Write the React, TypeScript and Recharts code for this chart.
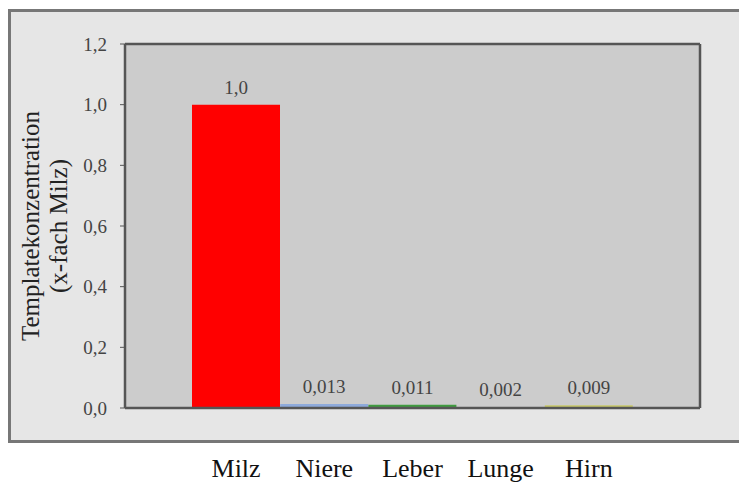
import React from 'react';
import { BarChart, Bar, XAxis, YAxis, CartesianGrid, Cell, LabelList } from 'recharts';

const categories = ['Milz', 'Niere', 'Leber', 'Lunge', 'Hirn'];
const values = [1.0, 0.013, 0.011, 0.002, 0.009];
const valueLabels = ['1,0', '0,013', '0,011', '0,002', '0,009'];
const barColors = ['#ff0000', '#8eaadb', '#3f9b3f', '#666666', '#c9c96a'];
const yTicks = [0, 0.2, 0.4, 0.6, 0.8, 1.0, 1.2];
const yLabelLines = ['Templatekonzentration', '(x-fach Milz)'];

const data = categories.map((c, i) => ({ name: c, value: values[i], label: valueLabels[i] }));

const FONT = '"Liberation Serif", "Times New Roman", serif';
const AXIS = '#555555';

const YLabel = (props: any) => {
  const vb = props.viewBox || { x: 0, y: 0, width: 0, height: 0 };
  const cy = vb.y + vb.height / 2;
  const x1 = vb.x + 30;
  const x2 = vb.x + 58;
  return (
    <g>
      <text x={x1} y={cy} transform={`rotate(-90, ${x1}, ${cy})`} textAnchor="middle" dominantBaseline="central"
        fontFamily={FONT} fontSize={25} fill="#222">{yLabelLines[0]}</text>
      <text x={x2} y={cy} transform={`rotate(-90, ${x2}, ${cy})`} textAnchor="middle" dominantBaseline="central"
        fontFamily={FONT} fontSize={25} fill="#222">{yLabelLines[1]}</text>
    </g>
  );
};

export default function App() {
  return (
    <div style={{ position: 'fixed', left: 0, top: 0, width: 739, height: 484, background: '#ffffff', overflow: 'hidden' }}>
      <div style={{ position: 'absolute', left: 8, top: 9, width: 760, height: 428, background: '#e6e6e6', border: '3px solid #777777' }} />
      <div style={{ position: 'absolute', left: 0, top: 0 }}>
        <BarChart width={739} height={484} data={data} margin={{ top: 43, right: 38, bottom: 0, left: 0 }} barCategoryGap={0}>
          <CartesianGrid fill="#cccccc" stroke="none" horizontal={false} vertical={false} />
          <XAxis dataKey="name" height={76} padding={{ left: 67, right: 67 }} tickLine={false}
            axisLine={{ stroke: AXIS, strokeWidth: 2.5 }} tickMargin={45}
            tick={{ fill: '#111', fontSize: 26, fontFamily: FONT }} interval={0} />
          <XAxis xAxisId="top" dataKey="name" orientation="top" height={1} tick={false} tickLine={false}
            axisLine={{ stroke: AXIS, strokeWidth: 2.5 }} />
          <YAxis width={125} domain={[0, 1.2]} ticks={yTicks} tickSize={5} tickMargin={13}
            tickFormatter={(v: number) => v.toFixed(1).replace('.', ',')}
            axisLine={{ stroke: AXIS, strokeWidth: 2.5 }} tickLine={{ stroke: AXIS }}
            tick={{ fill: '#444', fontSize: 19, fontFamily: FONT }}
            label={<YLabel />} />
          <YAxis yAxisId="right" orientation="right" width={1} domain={[0, 1.2]} tick={false} tickLine={false}
            axisLine={{ stroke: AXIS, strokeWidth: 2.5 }} />
          <Bar dataKey="value" isAnimationActive={false}>
            {data.map((d, i) => (
              <Cell key={d.name} fill={barColors[i]} />
            ))}
            <LabelList dataKey="label" position="top" offset={11} fill="#444" fontSize={19} fontFamily={FONT} />
          </Bar>
        </BarChart>
      </div>
    </div>
  );
}
